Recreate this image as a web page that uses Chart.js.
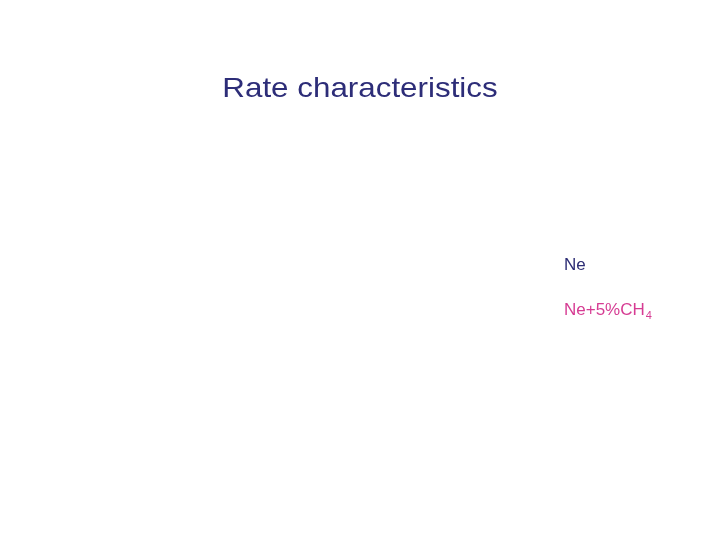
<!DOCTYPE html>
<html>
<head>
<meta charset="utf-8">
<script src="https://cdn.jsdelivr.net/npm/chart.js@4"></script>
<style>
  html, body { margin: 0; padding: 0; background: #fff; }
  #wrap { width: 720px; height: 540px; }
</style>
</head>
<body>
<div id="wrap"><canvas id="mycanvas" width="720" height="540"></canvas></div>
<script>
// the slide shows no plotted points, only the title and the two series names
var seriesNames = ['Ne', 'Ne+5%CH'];
var seriesSubs = ['', '4'];
var seriesColors = ['#2d2d75', '#d63c93'];
var neRate = [];
var neCh4Rate = [];

// title on the slide is a bit wider than Arial, so stretch it around the centre
var seriesLabels = {
  id: 'seriesLabels',
  beforeDraw: function(chart) {
    var ctx = chart.ctx;
    ctx.save();
    ctx.translate(360, 0);
    ctx.scale(1.12, 1);
    ctx.translate(-360, 0);
  },
  afterDraw: function(chart) {
    var ctx = chart.ctx;
    ctx.restore();
    var baselines = [270, 315];
    ctx.save();
    ctx.textBaseline = 'alphabetic';
    ctx.textAlign = 'left';
    for (var i = 0; i < seriesNames.length; i++) {
      ctx.fillStyle = seriesColors[i];
      ctx.font = '17px "Liberation Sans", Arial, sans-serif';
      ctx.fillText(seriesNames[i], 564, baselines[i]);
      if (seriesSubs[i]) {
        var w = ctx.measureText(seriesNames[i]).width;
        ctx.font = '11px "Liberation Sans", Arial, sans-serif';
        ctx.fillText(seriesSubs[i], 564 + w + 1, baselines[i] + 4);
      }
    }
    ctx.restore();
  }
};

var ctx = document.getElementById('mycanvas');

var chart = new Chart(ctx, {
  type: 'line',
  data: {
    labels: [],
    datasets: [
      {
        label: seriesNames[0],
        borderColor: seriesColors[0],
        backgroundColor: seriesColors[0],
        data: neRate
      },
      {
        label: seriesNames[1] + seriesSubs[1],
        borderColor: seriesColors[1],
        backgroundColor: seriesColors[1],
        data: neCh4Rate
      }
    ]
  },
  options: {
    responsive: false,
    animation: false,
    scales: {
      x: { display: false },
      y: { display: false }
    },
    plugins: {
      legend: { display: false },
      tooltip: { enabled: false },
      title: {
        display: true,
        text: 'Rate characteristics',
        color: '#2d2d78',
        font: { family: '"Liberation Sans", Arial, sans-serif', size: 28, weight: 'normal' },
        padding: { top: 72, bottom: 0 }
      }
    }
  },
  plugins: [seriesLabels]
});
</script>
</body>
</html>
